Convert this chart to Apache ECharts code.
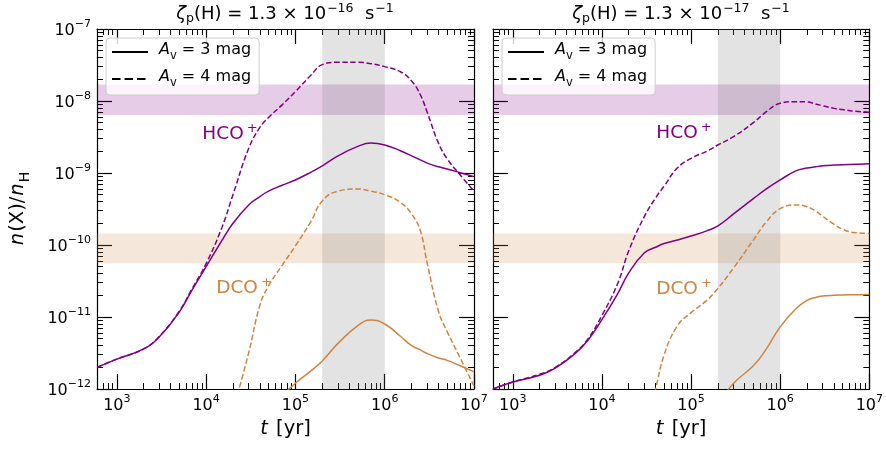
<!DOCTYPE html>
<html>
<head>
<meta charset="utf-8">
<script src="https://cdn.jsdelivr.net/npm/echarts@6/dist/echarts.min.js"></script>
<style>
  html, body { margin: 0; padding: 0; background: #fff; }
  #chart { width: 886px; height: 454px; }
</style>
</head>
<body>
<div id="chart"></div>
<script>
const FONT = 'DejaVu Sans';
const PURPLE = '#800080';
const PERU = '#cd853f';

// time grid [yr]
const times = [600, 1e3, 2e3, 3e3, 5e3, 7e3, 1e4, 1.5e4, 2e4, 3e4, 4e4, 5e4, 7e4, 1e5,
  1.5e5, 2e5, 3e5, 5e5, 7e5, 1e6, 1.5e6, 2e6, 2.5e6, 3e6, 4e6, 5e6, 7e6, 1e7];

// left panel: zeta_p(H) = 1.3e-16 s^-1
const hco16Av3 = [2.0e-12, 2.6e-12, 3.6e-12, 5.3e-12, 1.17e-11, 2.4e-11, 5.0e-11, 1.15e-10, 2.0e-10, 3.6e-10,
  4.7e-10, 5.6e-10, 6.7e-10, 8.0e-10, 1.03e-9, 1.26e-9, 1.73e-9, 2.34e-9, 2.6e-9, 2.45e-9,
  2.04e-9, 1.73e-9, 1.52e-9, 1.37e-9, 1.22e-9, 1.14e-9, 1.01e-9, 8.9e-10];
const hco16Av4 = [2.0e-12, 2.6e-12, 3.6e-12, 5.4e-12, 1.2e-11, 2.5e-11, 5.5e-11, 1.74e-10, 5.0e-10, 2.2e-9,
  4.3e-9, 5.9e-9, 8.7e-9, 1.35e-8, 2.3e-8, 3.2e-8, 3.45e-8, 3.45e-8, 3.3e-8, 3.0e-8,
  2.55e-8, 1.9e-8, 1.23e-8, 6.9e-9, 2.6e-9, 1.58e-9, 9.4e-10, 5.6e-10];
const dco16Av3 = [null, null, null, null, null, null, null, null, null, null, null, null,
  8e-13, 1.2e-12, 1.8e-12, 2.45e-12, 4.3e-12, 7.6e-12, 9.1e-12, 8.0e-12,
  5.4e-12, 4.0e-12, 3.5e-12, 3.1e-12, 2.7e-12, 2.5e-12, 2.1e-12, 1.73e-12];
const dco16Av4 = [null, null, null, null, null, null, null, null, 5e-13, 3.2e-12,
  1.45e-11, 2.7e-11, 5.1e-11, 9.7e-11, 2.15e-10, 4.1e-10, 5.6e-10, 6.0e-10, 5.6e-10, 5.0e-10,
  3.9e-10, 2.7e-10, 1.6e-10, 5.5e-11, 1.2e-11, 6.3e-12, 2.7e-12, 1.1e-12];

// right panel: zeta_p(H) = 1.3e-17 s^-1
const hco17Av3 = [1.0e-12, 1.25e-12, 1.55e-12, 1.95e-12, 3.1e-12, 4.8e-12, 9.2e-12, 2.1e-11, 4.1e-11, 7.8e-11,
  9.3e-11, 1.05e-10, 1.17e-10, 1.33e-10, 1.57e-10, 1.84e-10, 2.7e-10, 4.4e-10, 6.0e-10, 8.0e-10,
  1.07e-9, 1.17e-9, 1.22e-9, 1.26e-9, 1.29e-9, 1.3e-9, 1.32e-9, 1.34e-9];
const hco17Av4 = [1.0e-12, 1.25e-12, 1.6e-12, 2.0e-12, 3.2e-12, 5.0e-12, 1.05e-11, 2.9e-11, 8.3e-11, 2.5e-10,
  4.5e-10, 6.6e-10, 1.17e-9, 1.6e-9, 2.0e-9, 2.45e-9, 3.2e-9, 5.0e-9, 7.1e-9, 9.3e-9,
  9.8e-9, 9.7e-9, 9.1e-9, 8.6e-9, 7.9e-9, 7.6e-9, 7.2e-9, 7.0e-9];
const dco17Av3 = [null, null, null, null, null, null, null, null, null, null, null, null, null, null, null,
  6e-13, 1.2e-12, 2.1e-12, 3.6e-12, 7.3e-12,
  1.3e-11, 1.7e-11, 1.87e-11, 1.95e-11, 2.0e-11, 2.02e-11, 2.04e-11, 2.05e-11];
const dco17Av4 = [null, null, null, null, null, null, null, null, null, 2.5e-13,
  1.0e-12, 3.0e-12, 7.5e-12, 1.15e-11, 1.7e-11, 2.5e-11, 4.8e-11, 1.17e-10, 2.1e-10, 3.2e-10,
  3.6e-10, 3.4e-10, 2.95e-10, 2.5e-10, 1.95e-10, 1.66e-10, 1.48e-10, 1.45e-10];

// observed ranges and age window
const hcoBand = [6.4e-9, 1.7e-8];
const dcoBand = [5.6e-11, 1.45e-10];
const ageBand = [2e5, 1e6];

// axes
const xRange = [600, 1e7];
const yRange = [1e-12, 1e-7];
const xMajor = [1e3, 1e4, 1e5, 1e6, 1e7];
const yMajor = [1e-12, 1e-11, 1e-10, 1e-9, 1e-8, 1e-7];

const lg = Math.log10;
function minorTicks(range) {
  const out = [];
  const lo = Math.floor(lg(range[0])), hi = Math.ceil(lg(range[1]));
  for (let d = lo; d < hi; d++) {
    for (let k = 2; k <= 9; k++) {
      const v = lg(k) + d;
      if (v > lg(range[0]) + 1e-9 && v < lg(range[1]) - 1e-9) out.push(v);
    }
  }
  return out;
}

const base = { fontFamily: FONT, color: '#000' };
const tickRich = {
  b: { ...base, fontSize: 16, lineHeight: 20, verticalAlign: 'bottom' },
  s: { ...base, fontSize: 11, lineHeight: 13, verticalAlign: 'top' }
};

function xAxes(gi) {
  const common = {
    type: 'value', gridIndex: gi, min: lg(xRange[0]), max: lg(xRange[1]),
    splitLine: { show: false }, axisLine: { onZero: false, lineStyle: { color: '#000', width: 1.2 } }
  };
  return [
    { ...common, position: 'bottom',
      axisTick: { inside: true, length: 15, lineStyle: { color: '#000', width: 1.2 }, customValues: xMajor.map(lg) },
      axisLabel: { customValues: xMajor.map(lg), margin: 5, formatter: v => `{b|10}{s|${Math.round(v)}}`, rich: tickRich },
      name: '{i|t}{r| [yr]}', nameLocation: 'middle', nameGap: 27,
      nameTextStyle: { rich: {
        i: { ...base, fontSize: 19.5, fontStyle: 'italic', padding: [0, 2, 0, 0] },
        r: { ...base, fontSize: 19.5 } } } },
    { ...common, position: 'bottom', axisLine: { show: false, onZero: false },
      axisTick: { inside: true, length: 6, lineStyle: { color: '#000', width: 1 }, customValues: minorTicks(xRange) },
      axisLabel: { show: false } },
    { ...common, position: 'top',
      axisTick: { inside: true, length: 15, lineStyle: { color: '#000', width: 1.2 }, customValues: xMajor.map(lg) },
      axisLabel: { show: false } },
    { ...common, position: 'top', axisLine: { show: false, onZero: false },
      axisTick: { inside: true, length: 6, lineStyle: { color: '#000', width: 1 }, customValues: minorTicks(xRange) },
      axisLabel: { show: false } }
  ];
}

function yAxes(gi, labels) {
  const common = {
    type: 'value', gridIndex: gi, min: lg(yRange[0]), max: lg(yRange[1]),
    splitLine: { show: false }, axisLine: { onZero: false, lineStyle: { color: '#000', width: 1.2 } }
  };
  const major = { ...common, position: 'left',
    axisTick: { inside: true, length: 15, lineStyle: { color: '#000', width: 1.2 }, customValues: yMajor.map(lg) },
    axisLabel: labels
      ? { customValues: yMajor.map(lg), margin: 6, formatter: v => `{b|10}{s|−${-Math.round(v)}}`, rich: tickRich }
      : { show: false } };
  if (labels) {
    Object.assign(major, {
      name: '{i|n}{r|(X)/}{i|n}{sub|H}', nameLocation: 'middle', nameGap: 65, nameRotate: 90,
      nameTextStyle: { rich: {
        i: { ...base, fontSize: 19.5, fontStyle: 'italic', lineHeight: 24, verticalAlign: 'top', padding: [0, 1, 0, 1] },
        r: { ...base, fontSize: 19.5, lineHeight: 24, verticalAlign: 'top' },
        sub: { ...base, fontSize: 14, lineHeight: 15, verticalAlign: 'bottom' } } }
    });
  }
  return [
    major,
    { ...common, position: 'left', axisLine: { show: false, onZero: false },
      axisTick: { inside: true, length: 6, lineStyle: { color: '#000', width: 1 }, customValues: minorTicks(yRange) },
      axisLabel: { show: false } },
    { ...common, position: 'right',
      axisTick: { inside: true, length: 15, lineStyle: { color: '#000', width: 1.2 }, customValues: yMajor.map(lg) },
      axisLabel: { show: false } },
    { ...common, position: 'right', axisLine: { show: false, onZero: false },
      axisTick: { inside: true, length: 6, lineStyle: { color: '#000', width: 1 }, customValues: minorTicks(yRange) },
      axisLabel: { show: false } }
  ];
}

function curve(panel, vals, color, dashed) {
  return {
    type: 'line', xAxisIndex: panel * 4, yAxisIndex: panel * 4, z: 3, silent: true,
    data: times.map((t, i) => vals[i] == null ? null : [lg(t), lg(vals[i])]).filter(Boolean),
    smooth: 0.45, symbol: 'none', clip: true,
    lineStyle: { color, width: 1.5, type: dashed ? [5.5, 2.6] : 'solid' }
  };
}

function bands(panel) {
  return {
    type: 'line', xAxisIndex: panel * 4, yAxisIndex: panel * 4, z: 1, silent: true, data: [],
    markArea: { silent: true, data: [
      [{ yAxis: lg(hcoBand[0]), itemStyle: { color: 'rgba(128,0,128,0.2)' } }, { yAxis: lg(hcoBand[1]) }],
      [{ yAxis: lg(dcoBand[0]), itemStyle: { color: 'rgba(205,133,63,0.2)' } }, { yAxis: lg(dcoBand[1]) }],
      [{ xAxis: lg(ageBand[0]), itemStyle: { color: 'rgba(128,128,128,0.22)' } }, { xAxis: lg(ageBand[1]) }]
    ] }
  };
}

function legendBox(left) {
  return {
    data: ['Av3', 'Av4'], orient: 'vertical', left, top: 38,
    itemWidth: 36, itemHeight: 14, itemGap: 7, padding: [4, 8, 6, 5],
    backgroundColor: 'rgba(255,255,255,0.8)', borderColor: '#cccccc', borderWidth: 1, borderRadius: 4,
    selectedMode: false, itemStyle: { opacity: 0 },
    formatter: n => n === 'Av3' ? '{i|A}{sub|v}{r| = 3 mag}' : '{i|A}{sub|v}{r| = 4 mag}',
    textStyle: { rich: {
      i: { ...base, fontSize: 16, fontStyle: 'italic', lineHeight: 20, verticalAlign: 'top', padding: [0, 0, 0, 6] },
      r: { ...base, fontSize: 16, lineHeight: 20, verticalAlign: 'top' },
      sub: { ...base, fontSize: 11.5, lineHeight: 13, verticalAlign: 'bottom' } } }
  };
}

// graphic texts take zrender styles (fill instead of color)
const gBase = { fontFamily: FONT, fill: '#000' };
const titleRich = {
  i: { ...gBase, fontSize: 18, fontStyle: 'italic', lineHeight: 23 },
  r: { ...gBase, fontSize: 18, lineHeight: 23 },
  sub: { ...gBase, fontSize: 12.5, lineHeight: 15, verticalAlign: 'bottom' },
  sup: { ...gBase, fontSize: 12.5, lineHeight: 13, verticalAlign: 'top', padding: [0, 0, 0, 1] }
};
function titleText(x, exp) {
  return { type: 'text', x, y: 14, style: {
    text: `{i|ζ}{sub|p}{r|(H) = 1.3 × 10}{sup|−${exp}}{r|  s}{sup|−1}`,
    rich: titleRich, align: 'center', verticalAlign: 'middle' } };
}
const labelRich = (color) => ({
  b: { fontFamily: FONT, fill: color, fontSize: 18.5, lineHeight: 22, verticalAlign: 'bottom' },
  s: { fontFamily: FONT, fill: color, fontSize: 13, lineHeight: 14, verticalAlign: 'top', padding: [0, 0, 0, 3] }
});
function speciesLabel(x, y, name, color) {
  return { type: 'text', x, y, z: 10, style: {
    text: `{b|${name}}{s|+}`, rich: labelRich(color), fill: color, align: 'center', verticalAlign: 'middle' } };
}

const chart = echarts.init(document.getElementById('chart'), null, { renderer: 'canvas' });
chart.setOption({
  animation: false,
  backgroundColor: '#fff',
  grid: [
    { left: 97, top: 29, width: 377, height: 360 },
    { left: 493, top: 29, width: 378, height: 360 }
  ],
  xAxis: [...xAxes(0), ...xAxes(1)],
  yAxis: [...yAxes(0, true), ...yAxes(1, false)],
  legend: [legendBox(106), legendBox(502)],
  series: [
    bands(0), bands(1),
    curve(0, hco16Av3, PURPLE, false), curve(0, hco16Av4, PURPLE, true),
    curve(0, dco16Av3, PERU, false), curve(0, dco16Av4, PERU, true),
    curve(1, hco17Av3, PURPLE, false), curve(1, hco17Av4, PURPLE, true),
    curve(1, dco17Av3, PERU, false), curve(1, dco17Av4, PERU, true),
    { name: 'Av3', type: 'line', xAxisIndex: 0, yAxisIndex: 0, data: [], symbol: 'none',
      itemStyle: { color: '#000' }, lineStyle: { color: '#000', width: 2.2 } },
    { name: 'Av4', type: 'line', xAxisIndex: 0, yAxisIndex: 0, data: [], symbol: 'none',
      itemStyle: { color: '#000' }, lineStyle: { color: '#000', width: 2.2, type: [8.5, 4] } }
  ],
  graphic: [
    titleText(285, 16), titleText(681, 17),
    speciesLabel(230, 133, 'HCO', PURPLE), speciesLabel(244, 287, 'DCO', PERU),
    speciesLabel(684, 132, 'HCO', PURPLE), speciesLabel(684, 288, 'DCO', PERU)
  ]
});
window.addEventListener('resize', () => chart.resize());
</script>
</body>
</html>
